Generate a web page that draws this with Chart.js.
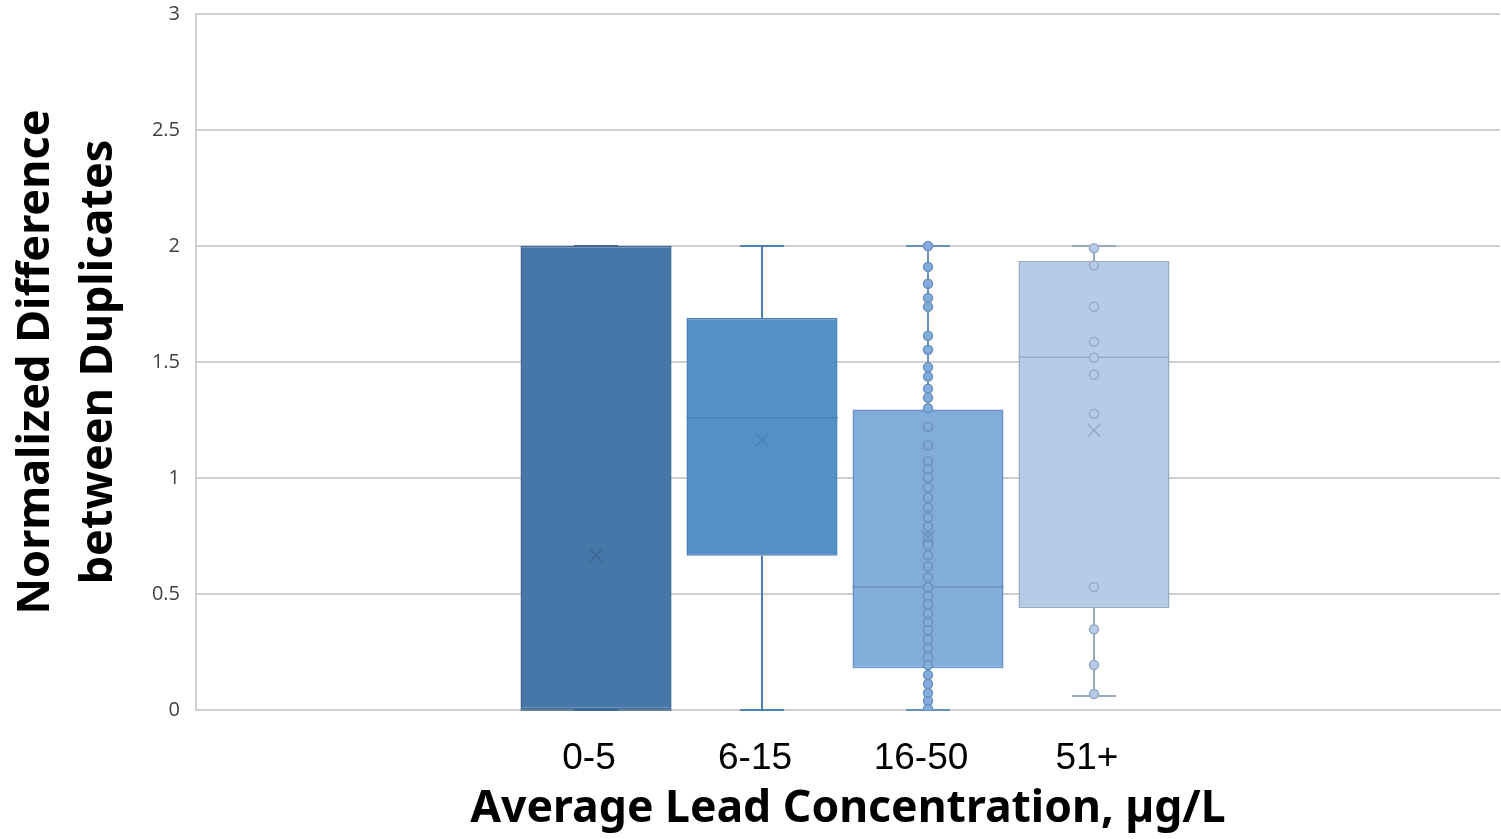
<!DOCTYPE html>
<html><head><meta charset="utf-8">
<script src="https://cdn.jsdelivr.net/npm/chart.js@4/dist/chart.umd.min.js"></script>
<style>html,body{margin:0;padding:0;background:#fff;} #wrap{width:1501px;height:839px;}</style>
</head><body><div id="wrap"><canvas id="c" width="1501" height="839"></canvas></div>
<script>
// ---- data ----
const categories = ['0-5', '6-15', '16-50', '51+'];
const q1 = [0, 0.665, 0.18, 0.44];
const q3 = [2, 1.69, 1.295, 1.935];
const medians = [0, 1.26, 0.53, 1.52];
const means = [0.667, 1.165, 0.745, 1.205];
const whiskerLow = [0, 0, 0, 0.06];
const whiskerHigh = [2, 2, 2, 2];
const points16to50 = [2.0, 1.91, 1.837, 1.776, 1.738, 1.613, 1.553, 1.477, 1.437, 1.385, 1.346, 1.301,
  1.221, 1.14, 1.071, 1.037, 1.002, 0.959, 0.916, 0.873, 0.83, 0.791, 0.745, 0.71, 0.667, 0.619, 0.572,
  0.529, 0.49, 0.456, 0.417, 0.378, 0.344, 0.305, 0.267, 0.228, 0.194, 0.151, 0.112, 0.073, 0.039, 0.004];
const points51plus = [1.99, 1.917, 1.738, 1.587, 1.518, 1.445, 1.277, 0.53, 0.348, 0.194, 0.069];
const yAxisTitle = ['Normalized Difference', 'between Duplicates'];
const xAxisTitle = 'Average Lead Concentration, µg/L';

// ---- styles ----
const fills = ['#4677a8', '#5390c6', '#82addb', '#b5cbe8'];
const strokes = ['#3d6894', '#4a80b2', '#6a92c0', '#98aac2'];
const gridColor = '#cfcfcf';

const boxParts = {
  id: 'boxParts',
  afterDatasetDraw(chart, args) {
    if (args.index !== 0) return;
    const ctx = chart.ctx;
    const y = chart.scales.y;
    const meta = chart.getDatasetMeta(0);
    meta.data.forEach((bar, i) => {
      const cx = bar.x, half = bar.width / 2, cap = 22;
      const yq1 = y.getPixelForValue(q1[i]), yq3 = y.getPixelForValue(q3[i]);
      const ylo = y.getPixelForValue(whiskerLow[i]), yhi = y.getPixelForValue(whiskerHigh[i]);
      const ymed = y.getPixelForValue(medians[i]);
      ctx.save();
      ctx.strokeStyle = strokes[i];
      ctx.lineWidth = 2;
      ctx.beginPath();
      ctx.moveTo(cx, yq3); ctx.lineTo(cx, yhi);
      ctx.moveTo(cx - cap, yhi); ctx.lineTo(cx + cap, yhi);
      ctx.moveTo(cx, yq1); ctx.lineTo(cx, ylo);
      ctx.moveTo(cx - cap, ylo); ctx.lineTo(cx + cap, ylo);
      ctx.stroke();
      ctx.beginPath();
      ctx.lineWidth = 1.5;
      ctx.moveTo(cx - half, ymed); ctx.lineTo(cx + half, ymed);
      ctx.stroke();
      ctx.restore();
    });
  }
};

new Chart(document.getElementById('c'), {
  type: 'bar',
  data: {
    datasets: [
      {
        type: 'bar',
        data: categories.map((c, i) => ({ x: i, y: [q1[i], q3[i]] })),
        backgroundColor: fills,
        borderColor: strokes,
        borderWidth: 1.5,
        borderSkipped: false,
        barPercentage: 0.91,
        categoryPercentage: 1,
        order: 3
      },
      {
        type: 'scatter',
        data: points16to50.map(v => ({ x: 2, y: v })),
        pointRadius: 4.5,
        backgroundColor: fills[2],
        borderColor: strokes[2],
        borderWidth: 1.5,
        order: 2
      },
      {
        type: 'scatter',
        data: points51plus.map(v => ({ x: 3, y: v })),
        pointRadius: 4.5,
        backgroundColor: fills[3],
        borderColor: strokes[3],
        borderWidth: 1.5,
        order: 2
      },
      {
        type: 'scatter',
        data: categories.map((c, i) => ({ x: i, y: means[i] })),
        pointStyle: 'crossRot',
        pointRadius: 9,
        borderColor: strokes,
        borderWidth: 1.5,
        order: 1
      }
    ]
  },
  options: {
    responsive: false,
    animation: false,
    devicePixelRatio: 1,
    layout: { autoPadding: false, padding: { top: 0, right: 1, left: 0, bottom: 0 } },
    plugins: { legend: { display: false }, tooltip: { enabled: false } },
    scales: {
      x: {
        type: 'linear',
        offset: false,
        min: -2.41,
        max: 5.446,
        afterBuildTicks: s => { s.ticks = categories.map((c, i) => ({ value: i })); },
        afterFit: s => { s.height = 129; },
        grid: { display: false, drawTicks: false },
        border: { display: true, color: gridColor, width: 2 },
        ticks: {
          callback: v => categories[Math.round(v)] ?? '',
          font: { family: 'Liberation Sans, Arial, sans-serif', size: 37 },
          color: '#000',
          padding: 27,
          labelOffset: -7,
          maxRotation: 0,
          autoSkip: false
        },
        title: {
          display: true,
          text: xAxisTitle,
          font: { family: 'Noto Sans, Open Sans, sans-serif', size: 44.5, weight: 'bold', lineHeight: 1.2 },
          color: '#000',
          padding: { top: 0, bottom: 3 }
        }
      },
      y: {
        min: 0,
        max: 3,
        afterFit: s => { s.width = 196; s.paddingTop = 14; s.paddingBottom = 14; },
        grid: { color: gridColor, lineWidth: 2, drawTicks: false },
        border: { display: true, color: gridColor, width: 2 },
        ticks: {
          stepSize: 0.5,
          callback: v => String(v),
          font: { family: 'Open Sans, sans-serif', size: 20 },
          color: '#404040',
          padding: 16
        },
        title: {
          display: true,
          text: yAxisTitle,
          font: { family: 'Noto Sans, Open Sans, sans-serif', size: 45, weight: 'bold', lineHeight: '63px' },
          color: '#000',
          padding: { top: 5, bottom: 0 }
        }
      }
    }
  },
  plugins: [boxParts]
});
</script>
</body></html>
